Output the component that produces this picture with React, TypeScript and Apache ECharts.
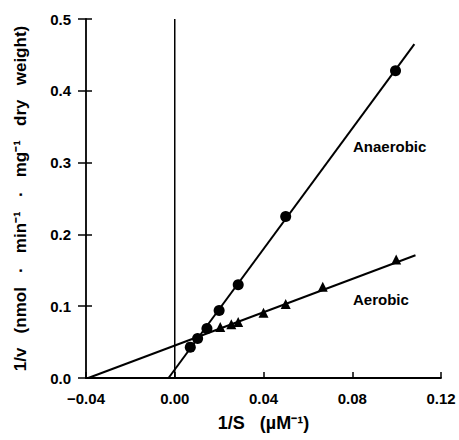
import React, { useEffect, useRef } from "react";
import * as echarts from "echarts";

const xTicks = { min: -0.04, max: 0.12, interval: 0.04 };
const yTicks = { min: 0, max: 0.5, interval: 0.1 };

const anaerobicX = [0.007, 0.0103, 0.0145, 0.02, 0.0286, 0.05, 0.0995];
const anaerobicY = [0.043, 0.055, 0.069, 0.094, 0.13, 0.225, 0.428];
const aerobicX = [0.0205, 0.0255, 0.0286, 0.04, 0.05, 0.0667, 0.0998];
const aerobicY = [0.071, 0.075, 0.078, 0.091, 0.103, 0.127, 0.165];

const anaerobicFitX = [-0.0028, 0.108];
const anaerobicFitY = [0, 0.465];
const aerobicFitX = [-0.039, 0.1085];
const aerobicFitY = [0, 0.171];

const zeroLineX = [0, 0];
const zeroLineY = [0, 0.5];

const labels = ["Anaerobic", "Aerobic"];

const zip = (xs: number[], ys: number[]) => xs.map((x, i) => [x, ys[i]]);

const FONT = "'Liberation Sans', Arial, Helvetica, sans-serif";
const SP = "\u00A0\u00A0\u00A0";

export default function App() {
  const ref = useRef<HTMLDivElement>(null);
  useEffect(() => {
    if (!ref.current) return;
    const chart = echarts.init(ref.current, undefined, { renderer: "svg" });
    const black = "#000";
    chart.setOption({
      animation: false,
      backgroundColor: "#fff",
      grid: { left: 86, right: 18, top: 19, bottom: 62 },
      xAxis: {
        type: "value",
        min: xTicks.min,
        max: xTicks.max,
        interval: xTicks.interval,
        name: "1/S" + SP + "(µM⁻¹)",
        nameLocation: "middle",
        nameGap: 36,
        nameTextStyle: { fontFamily: FONT, fontWeight: "bold", fontSize: 18, color: black },
        axisLine: { onZero: false, lineStyle: { color: black, width: 1.8 } },
        axisTick: { inside: true, length: 6, lineStyle: { color: black, width: 1.5 } },
        axisLabel: {
          margin: 13,
          fontFamily: FONT,
          fontWeight: "bold",
          fontSize: 15,
          color: black,
          formatter: (v: number) => (v < 0 ? "−" + Math.abs(v).toFixed(2) : v.toFixed(2)),
        },
        splitLine: { show: false },
      },
      yAxis: [
        {
          type: "value",
          position: "left",
          offset: 0,
          min: yTicks.min,
          max: yTicks.max,
          interval: yTicks.interval,
          name:
            "1/v" + SP + "(nmol" + SP + "·" + SP + "min⁻¹" + SP + "·" + SP + "mg⁻¹" + SP + "dry" + SP + "weight)",
          nameLocation: "middle",
          nameGap: 57,
          nameTextStyle: { fontFamily: FONT, fontWeight: "bold", fontSize: 17, color: black },
          axisLine: { onZero: false, lineStyle: { color: black, width: 1.8 } },
          axisTick: { inside: false, length: 8, lineStyle: { color: black, width: 1.5 } },
          axisLabel: {
            margin: 15,
            fontFamily: FONT,
            fontWeight: "bold",
            fontSize: 15,
            color: black,
            formatter: (v: number) => v.toFixed(1),
          },
          splitLine: { show: false },
        },
        {
          type: "value",
          position: "left",
          offset: 0,
          min: yTicks.min,
          max: yTicks.max,
          interval: yTicks.interval,
          axisLine: { show: false, onZero: false },
          axisTick: { inside: true, length: 6, lineStyle: { color: black, width: 1.5 } },
          axisLabel: { show: false },
          splitLine: { show: false },
        },
      ],
      series: [
        {
          type: "line",
          data: zip(zeroLineX, zeroLineY),
          symbol: "none",
          lineStyle: { color: black, width: 1.5 },
        },
        {
          type: "line",
          data: zip(anaerobicFitX, anaerobicFitY),
          symbol: "none",
          lineStyle: { color: black, width: 2 },
        },
        {
          type: "line",
          data: zip(aerobicFitX, aerobicFitY),
          symbol: "none",
          lineStyle: { color: black, width: 2 },
        },
        {
          type: "scatter",
          name: labels[0],
          data: zip(anaerobicX, anaerobicY),
          symbol: "circle",
          symbolSize: 11,
          itemStyle: { color: black, opacity: 1 },
        },
        {
          type: "scatter",
          name: labels[1],
          data: zip(aerobicX, aerobicY),
          symbol: "triangle",
          symbolSize: 10,
          itemStyle: { color: black, opacity: 1 },
        },
      ],
      graphic: [
        {
          type: "text",
          left: 353,
          top: 139,
          style: { text: labels[0], fontFamily: FONT, fontWeight: "bold", fontSize: 15, fill: black },
        },
        {
          type: "text",
          left: 353,
          top: 292,
          style: { text: labels[1], fontFamily: FONT, fontWeight: "bold", fontSize: 15, fill: black },
        },
      ],
    });
    return () => chart.dispose();
  }, []);
  return (
    <div
      ref={ref}
      style={{ position: "fixed", left: 0, top: 0, width: 459, height: 440 }}
    />
  );
}
